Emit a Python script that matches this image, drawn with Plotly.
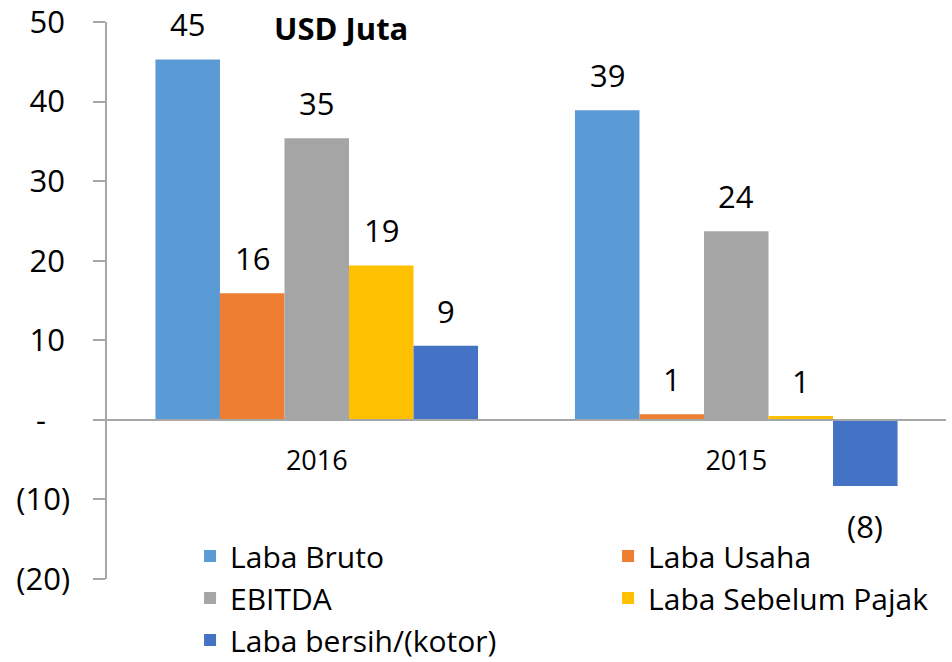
import plotly.graph_objects as go

# ---- data ----
years = ["2016", "2015"]
series_names = ["Laba Bruto", "Laba Usaha", "EBITDA", "Laba Sebelum Pajak", "Laba bersih/(kotor)"]
laba_bruto = [45.3, 38.9]
laba_usaha = [15.9, 0.7]
ebitda = [35.4, 23.7]
laba_sebelum_pajak = [19.4, 0.5]
laba_bersih = [9.3, -8.3]
label_bruto = ["45", "39"]
label_usaha = ["16", "1"]
label_ebitda = ["35", "24"]
label_sebelum = ["19", "1"]
label_bersih = ["9", "(8)"]
y_tickvals = [-20, -10, 0, 10, 20, 30, 40, 50]
y_ticktext = ["(20)", "(10)", "-\u00a0\u00a0\u00a0", "10\u2009", "20\u2009", "30\u2009", "40\u2009", "50\u2009"]
unit_title = "USD Juta"

colors = ["#5B9BD5", "#ED7D31", "#A5A5A5", "#FFC000", "#4472C4"]
values = [laba_bruto, laba_usaha, ebitda, laba_sebelum_pajak, laba_bersih]
labels = [label_bruto, label_usaha, label_ebitda, label_sebelum, label_bersih]

FONT = "'Open Sans', Lato, sans-serif"
AXIS_GREY = "#A6A6A6"
BARGAP = 0.231
n_series = len(series_names)
bar_w = (1 - BARGAP) / n_series
xpos = list(range(len(years)))

fig = go.Figure()
for name, vals, col in zip(series_names, values, colors):
    fig.add_trace(go.Bar(
        x=xpos, y=vals, name=name,
        marker=dict(color=col, line=dict(width=0)),
        hoverinfo="name+y",
    ))

annotations = []
for j, (vals, labs) in enumerate(zip(values, labels)):
    for i, (v, t) in enumerate(zip(vals, labs)):
        ax = xpos[i] + (j - (n_series - 1) / 2) * bar_w
        annotations.append(dict(
            x=ax, y=v, xref="x", yref="y", text=t, showarrow=False,
            yanchor="bottom" if v >= 0 else "top",
            yshift=12 if v >= 0 else -17,
            font=dict(family=FONT, size=31, color="#000000"),
        ))

annotations.append(dict(
    x=(272 - 107) / 839, y=0.99, xref="paper", yref="paper",
    xanchor="left", yanchor="middle", showarrow=False,
    text="<b>" + unit_title + "</b>",
    font=dict(family=FONT, size=31, color="#000000"),
))

fig.update_layout(
    width=952, height=662,
    margin=dict(l=107, r=6, t=22, b=83, autoexpand=False),
    paper_bgcolor="white", plot_bgcolor="white",
    barmode="group", bargap=BARGAP, bargroupgap=0,
    font=dict(family=FONT, color="#000000"),
    showlegend=True,
    legend=dict(
        orientation="h", x=0.099, y=0.088, xanchor="left", yanchor="top",
        entrywidth=373, entrywidthmode="pixels",
        font=dict(family=FONT, size=30, color="#000000"),
        bgcolor="rgba(0,0,0,0)", traceorder="normal",
    ),
    annotations=annotations,
    xaxis=dict(
        type="linear", range=[-0.5, 1.5],
        tickvals=xpos, ticktext=years,
        anchor="free", position=2 / 7,
        showline=True, linecolor=AXIS_GREY, linewidth=1.5,
        ticks="", showgrid=False, zeroline=False,
        tickfont=dict(family=FONT, size=27, color="#000000"),
        ticklabelstandoff=17, ticklabeloverflow="allow",
    ),
    yaxis=dict(
        range=[-20, 50], tickvals=y_tickvals, ticktext=y_ticktext,
        showline=True, linecolor=AXIS_GREY, linewidth=1.5,
        ticks="outside", ticklen=12, tickcolor=AXIS_GREY, tickwidth=1.5,
        showgrid=False, zeroline=False,
        tickfont=dict(family=FONT, size=31, color="#000000"),
        ticklabelstandoff=17, ticklabeloverflow="allow",
    ),
)

# remove the default 8px body margin so the 952x662 figure fills the window
fig.write_html(
    "out.html",
    config={"displayModeBar": False},
    post_script="document.body.style.margin='0';document.body.style.overflow='hidden';",
)
